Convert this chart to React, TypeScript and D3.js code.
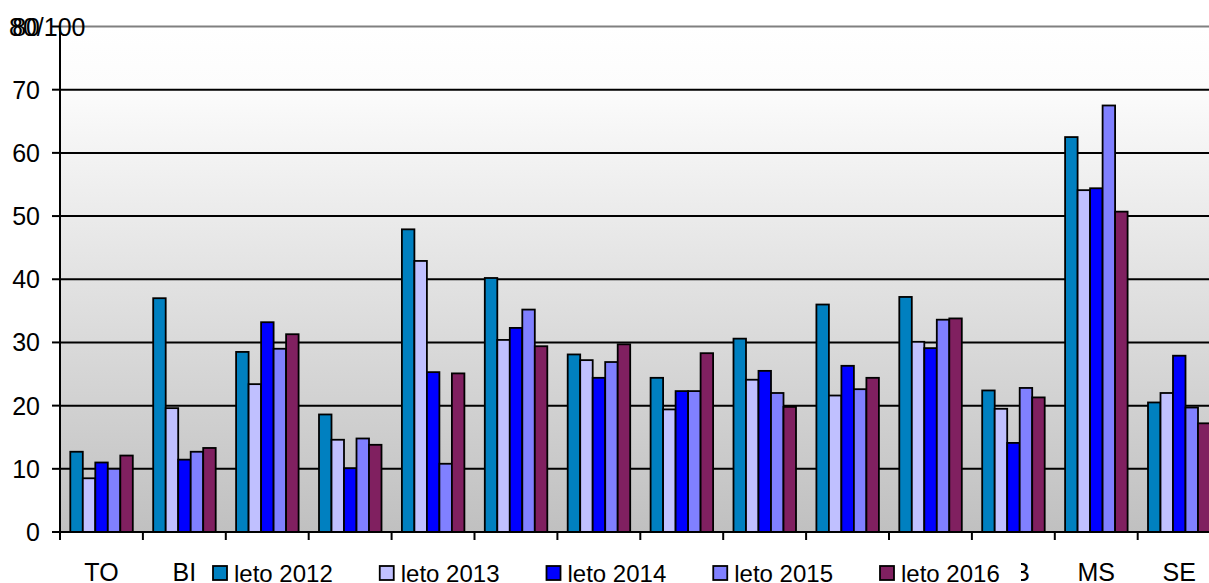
import React from "react";
import * as d3 from "d3";

const categories = ["TO", "BI", "KO", "PR", "NI", "ZA", "KR", "LE", "VR", "SU", "PO", "KB", "MS", "SE"];
const seriesNames = ["leto 2012", "leto 2013", "leto 2014", "leto 2015", "leto 2016"];
const seriesColors = ["#0080C0", "#C0C0FF", "#0000FF", "#8080FF", "#802060"];
const v2012 = [12.7, 37.0, 28.5, 18.6, 47.9, 40.2, 28.1, 24.4, 30.6, 36.0, 37.2, 22.4, 62.5, 20.5];
const v2013 = [8.5, 19.6, 23.4, 14.6, 42.9, 30.4, 27.2, 19.4, 24.1, 21.6, 30.1, 19.5, 54.1, 22.0];
const v2014 = [11.0, 11.45, 33.2, 10.1, 25.3, 32.3, 24.4, 22.3, 25.5, 26.3, 29.1, 14.1, 54.4, 27.9];
const v2015 = [10.0, 12.7, 29.0, 14.8, 10.8, 35.2, 26.9, 22.3, 22.0, 22.6, 33.6, 22.8, 67.5, 19.7];
const v2016 = [12.1, 13.3, 31.3, 13.8, 25.1, 29.4, 29.7, 28.3, 19.8, 24.4, 33.8, 21.3, 50.7, 17.2];
const yTicks = [0, 10, 20, 30, 40, 50, 60, 70, 80];

const seriesValues = [v2012, v2013, v2014, v2015, v2016];

export default function App() {
  const W = 1209, H = 583;
  const left = 60, step = 82.9;
  const right = left + step * categories.length;
  const y = d3.scaleLinear().domain([0, 80]).range([532, 26.5]);
  const x0 = d3.scaleBand<string>().domain(categories).range([left, right]).padding(0);
  const x1 = d3.scaleBand<string>().domain(seriesNames).range([10.3, 72.8]).padding(0);
  const font = "Arial, 'Liberation Sans', sans-serif";
  const legendX = d3.scaleLinear().domain([0, 4]).range([213, 880]);

  return (
    <svg width={W} height={H} style={{ position: "absolute", left: 0, top: 0 }} fontFamily={font}>
      <defs>
        <linearGradient id="bg" x1="0" y1="0" x2="0" y2="1">
          <stop offset="0" stopColor="#ffffff" />
          <stop offset="0.12" stopColor="#fcfcfc" />
          <stop offset="1" stopColor="#c0c0c0" />
        </linearGradient>
      </defs>
      <rect x={left} y={y(80)} width={right - left} height={y(0) - y(80)} fill="url(#bg)" />
      {yTicks.filter(t => t > 0 && t < 80).map(t => (
        <line key={t} x1={left} x2={right} y1={y(t)} y2={y(t)} stroke="#000" strokeWidth={2} />
      ))}
      <line x1={left} x2={right} y1={y(80)} y2={y(80)} stroke="#808080" strokeWidth={2} />
      {categories.map((c, i) => (
        <g key={c}>
          {seriesValues.map((vals, s) => (
            <rect key={s}
              x={(x0(c) as number) + (x1(seriesNames[s]) as number)}
              y={y(vals[i])}
              width={x1.bandwidth()}
              height={y(0) - y(vals[i])}
              fill={seriesColors[s]} stroke="#000" strokeWidth={1.8} />
          ))}
        </g>
      ))}
      {/* axes */}
      <line x1={left} x2={left} y1={y(80)} y2={540} stroke="#000" strokeWidth={2} />
      <line x1={left} x2={right} y1={y(0)} y2={y(0)} stroke="#000" strokeWidth={2} />
      {yTicks.map(t => (
        <g key={t}>
          <line x1={52} x2={left} y1={y(t)} y2={y(t)} stroke="#000" strokeWidth={2} />
          <text x={40} y={y(t)} dy="0.36em" textAnchor="end" fontSize={25} fill="#000">{t}</text>
        </g>
      ))}
      <text x={9} y={y(80)} dy="0.36em" fontSize={25} fill="#000">80/100</text>
      {d3.range(categories.length + 1).map(k => (
        <line key={k} x1={left + k * step} x2={left + k * step} y1={y(0)} y2={540} stroke="#000" strokeWidth={2} />
      ))}
      {categories.map(c => (
        <text key={c} x={(x0(c) as number) + step / 2} y={581} textAnchor="middle" fontSize={25} fill="#000">{c}</text>
      ))}
      {/* legend */}
      <rect x={200} y={551} width={821} height={32} fill="#fff" />
      {seriesNames.map((n, s) => (
        <g key={n}>
          <rect x={legendX(s)} y={566} width={14} height={14} fill={seriesColors[s]} stroke="#000" strokeWidth={1.8} />
          <text x={legendX(s) + 21} y={582} fontSize={24} fill="#000">{n}</text>
        </g>
      ))}
    </svg>
  );
}
